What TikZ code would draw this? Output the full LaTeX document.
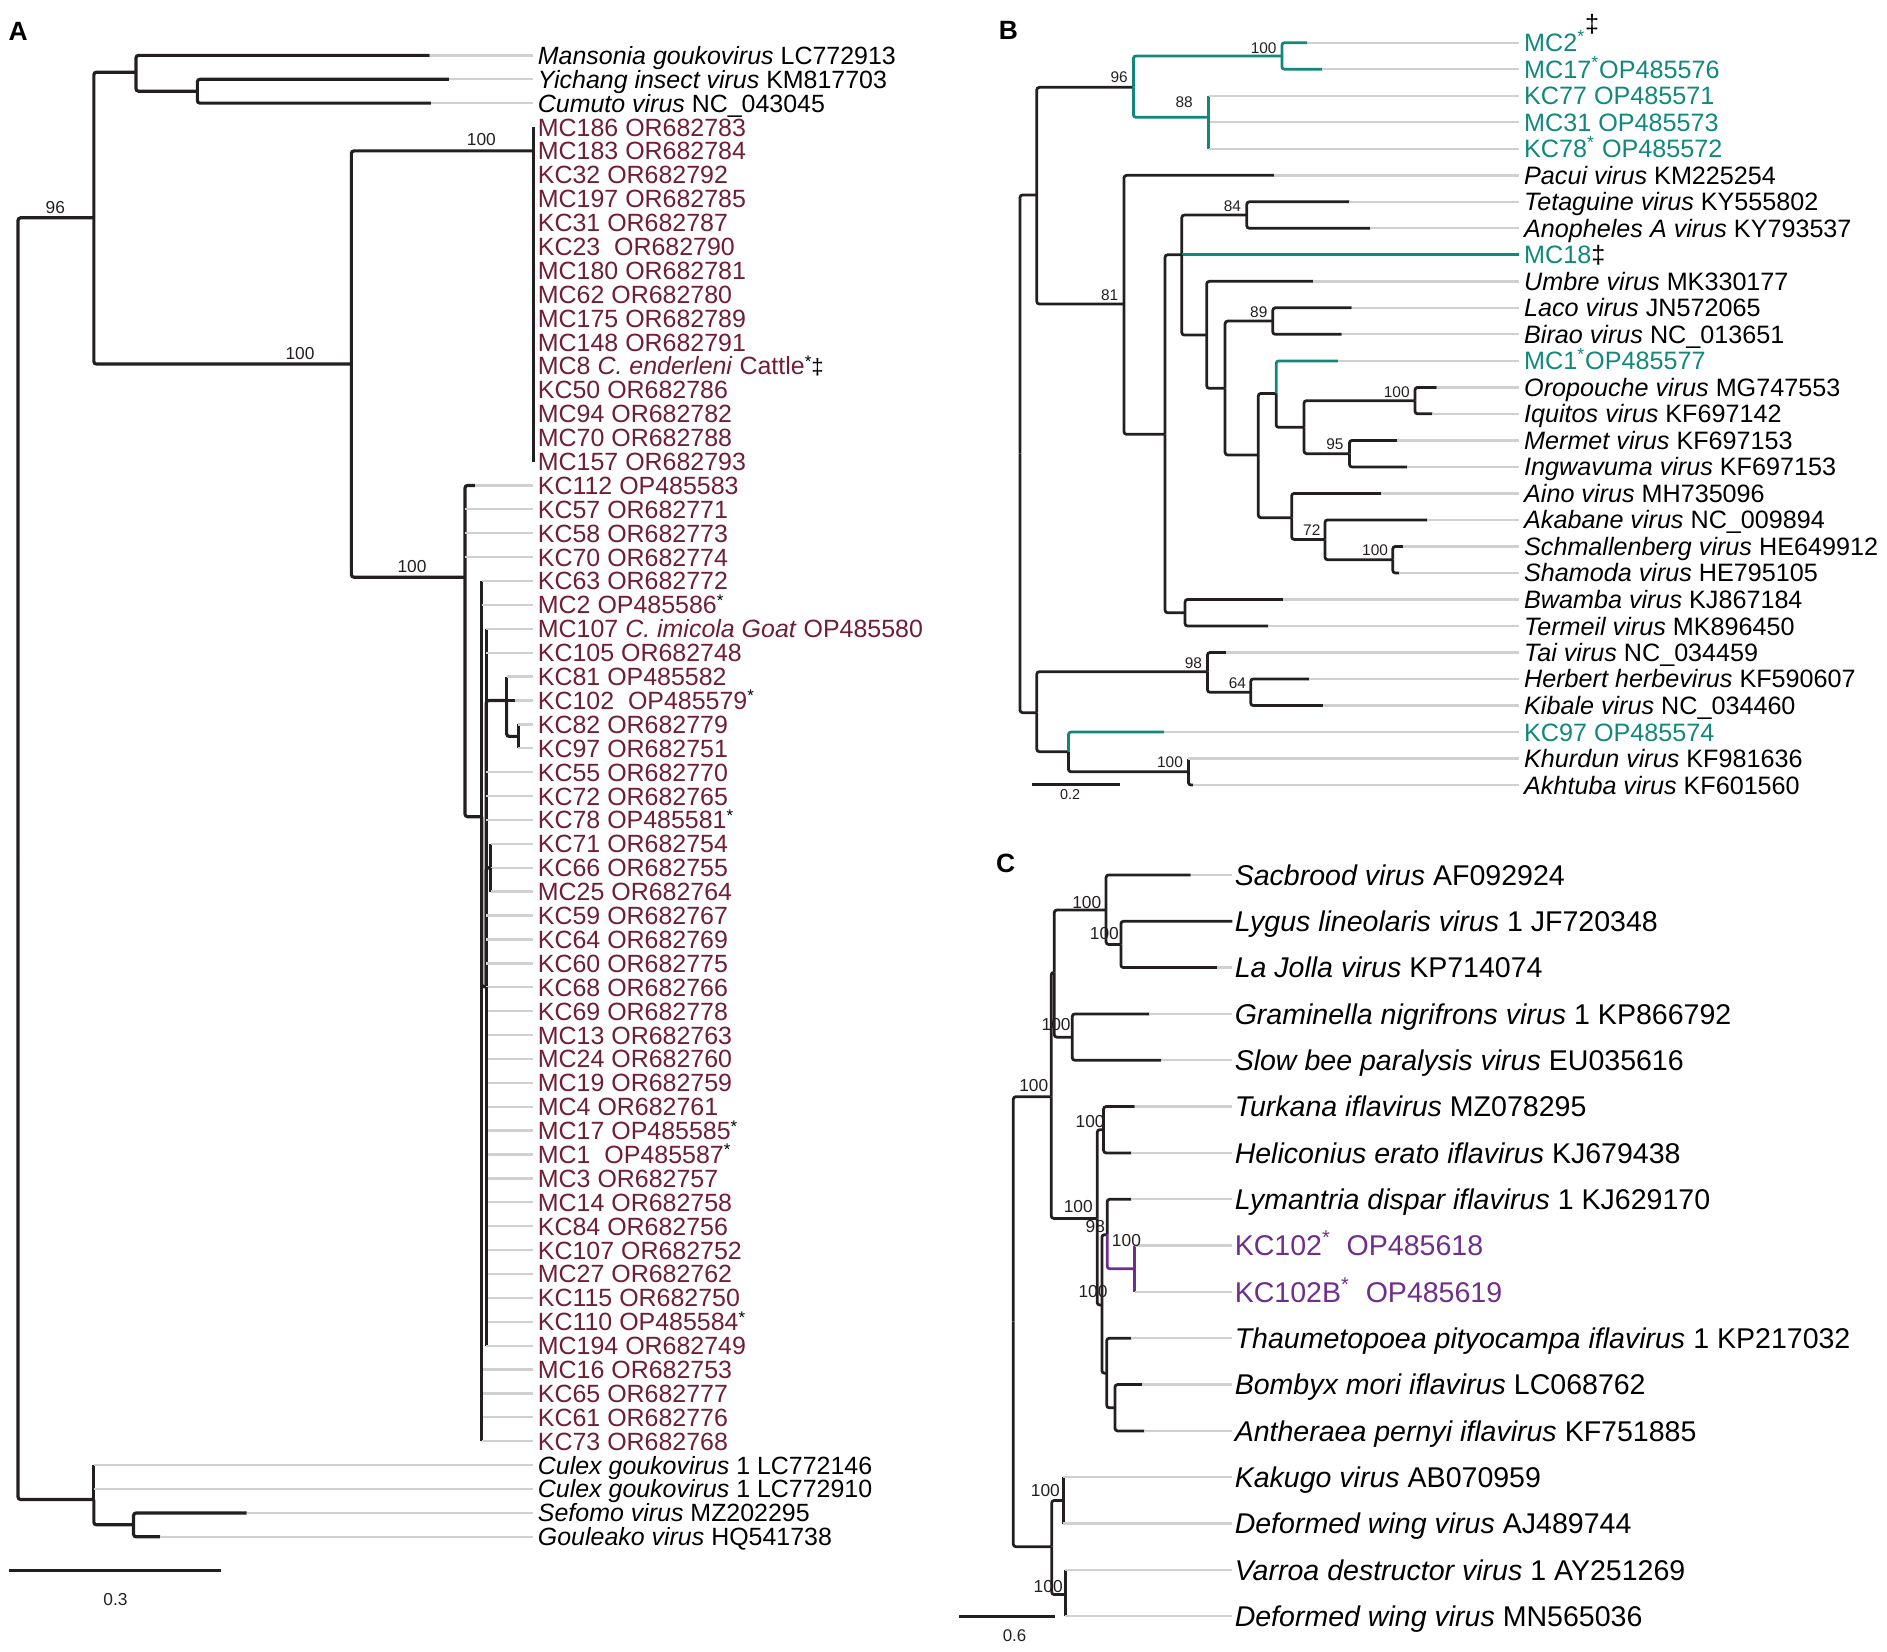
\documentclass[tikz,border=0pt]{standalone}
\usepackage{fontspec}
\setmainfont{Liberation Sans}
\definecolor{treeblack}{RGB}{35,31,32}
\definecolor{tipgray}{RGB}{208,208,208}
\definecolor{virmaroon}{RGB}{112,30,52}
\definecolor{virteal}{RGB}{18,136,124}
\definecolor{virpurple}{RGB}{112,46,140}

\begin{document}
\begin{tikzpicture}[x=0.02cm, y=-0.02cm]
\tikzstyle{brA}=[draw=treeblack, line width=1.5pt, rounded corners=1.2pt]
\tikzstyle{br}=[draw=treeblack, line width=1.3pt, rounded corners=1.2pt]
\tikzstyle{brteal}=[br, draw=virteal]
\tikzstyle{brpurple}=[br, draw=virpurple]
\tikzstyle{tipg}=[draw=tipgray, line width=1.1pt]
\tikzstyle{tipA}=[anchor=west, inner xsep=0.08cm, inner ysep=0pt, outer sep=0pt, text=virmaroon, font=\fontsize{11.8}{12}\selectfont, text height=8.45pt, text depth=0pt]
\tikzstyle{tipAk}=[tipA, text=black]
\tikzstyle{tipB}=[anchor=west, inner xsep=0.09cm, inner ysep=0pt, outer sep=0pt, text=black, font=\fontsize{11.9}{12}\selectfont, text height=8.5pt, text depth=0pt]
\tikzstyle{tipBt}=[tipB, text=virteal]
\tikzstyle{tipC}=[anchor=west, inner xsep=0.04cm, inner ysep=0pt, outer sep=0pt, text=black, font=\fontsize{13.5}{14}\selectfont, text height=9.65pt, text depth=0pt]
\tikzstyle{tipCp}=[tipC, text=virpurple]
\tikzstyle{bsA}=[inner sep=0pt, text=treeblack, font=\fontsize{8.2}{9}\selectfont]
\tikzstyle{bsB}=[bsA, font=\fontsize{7.3}{8}\selectfont]
\tikzstyle{bsC}=[bsA, font=\fontsize{8.2}{9}\selectfont]
\tikzstyle{panel}=[inner sep=0pt, font=\fontsize{12.5}{13}\selectfont\bfseries]
\useasboundingbox (0,0) rectangle (1568,1372);

% ---------------- A ----------------
\node[panel] (pA) at (15,26) {A};
\coordinate (aRoot) at (15,713);
\coordinate (a96) at (78,181);
\coordinate (aGouk) at (113,60);
\coordinate (aYC) at (164,75.8);
\coordinate (aCH) at (292,302.5);
\coordinate (aTop) at (443,125.4);
\coordinate (aBot) at (386.4,479.6);
\coordinate (aPoly) at (400.3,678.6);
\coordinate (aSub) at (404,820);
\coordinate (aK81) at (421,582.1);
\coordinate (aK82) at (430.7,611.9);
\coordinate (aK71) at (407.7,721.1);
\coordinate (aOut) at (78,1246);
\coordinate (aSG) at (111,1267);

\node[tipAk] (mansonia) at (443,46.0) {\textit{Mansonia goukovirus} LC772913};
\node[tipAk] (yichang) at (443,65.9) {\textit{Yichang insect virus} KM817703};
\node[tipAk] (cumuto) at (443,85.7) {\textit{Cumuto virus} NC\_043045};
\node[tipA] (aMC186) at (443,105.6) {MC186 OR682783};
\node[tipA] (aMC183) at (443,125.4) {MC183 OR682784};
\node[tipA] (aKC32) at (443,145.3) {KC32 OR682792};
\node[tipA] (aMC197) at (443,165.1) {MC197 OR682785};
\node[tipA] (aKC31) at (443,185.0) {KC31 OR682787};
\node[tipA] (aKC23) at (443,204.8) {KC23~ OR682790};
\node[tipA] (aMC180) at (443,224.7) {MC180 OR682781};
\node[tipA] (aMC62) at (443,244.6) {MC62 OR682780};
\node[tipA] (aMC175) at (443,264.4) {MC175 OR682789};
\node[tipA] (aMC148) at (443,284.3) {MC148 OR682791};
\node[tipA] (aMC8) at (443,304.1) {MC8 \textit{C. enderleni} Cattle\textcolor{black}{\raisebox{0.3em}{\fontsize{8}{8}\selectfont *}{\fontsize{10.5}{10}\selectfont ‡}}};
\node[tipA] (aKC50) at (443,324.0) {KC50 OR682786};
\node[tipA] (aMC94) at (443,343.8) {MC94 OR682782};
\node[tipA] (aMC70) at (443,363.7) {MC70 OR682788};
\node[tipA] (aMC157) at (443,383.5) {MC157 OR682793};
\node[tipA] (aKC112) at (443,403.4) {KC112 OP485583};
\node[tipA] (aKC57) at (443,423.2) {KC57 OR682771};
\node[tipA] (aKC58) at (443,443.1) {KC58 OR682773};
\node[tipA] (aKC70) at (443,463.0) {KC70 OR682774};
\node[tipA] (aKC63) at (443,482.8) {KC63 OR682772};
\node[tipA] (aMC2) at (443,502.7) {MC2 OP485586\textcolor{black}{\raisebox{0.3em}{\fontsize{8}{8}\selectfont *}}};
\node[tipA] (aMC107) at (443,522.5) {MC107 \textit{C. imicola Goat} OP485580};
\node[tipA] (aKC105) at (443,542.4) {KC105 OR682748};
\node[tipA] (aKC81) at (443,562.2) {KC81 OP485582};
\node[tipA] (aKC102) at (443,582.1) {KC102~ OP485579\textcolor{black}{\raisebox{0.3em}{\fontsize{8}{8}\selectfont *}}};
\node[tipA] (aKC82) at (443,601.9) {KC82 OR682779};
\node[tipA] (aKC97) at (443,621.8) {KC97 OR682751};
\node[tipA] (aKC55) at (443,641.6) {KC55 OR682770};
\node[tipA] (aKC72) at (443,661.5) {KC72 OR682765};
\node[tipA] (aKC78) at (443,681.4) {KC78 OP485581\textcolor{black}{\raisebox{0.3em}{\fontsize{8}{8}\selectfont *}}};
\node[tipA] (aKC71) at (443,701.2) {KC71 OR682754};
\node[tipA] (aKC66) at (443,721.1) {KC66 OR682755};
\node[tipA] (aMC25) at (443,740.9) {MC25 OR682764};
\node[tipA] (aKC59) at (443,760.8) {KC59 OR682767};
\node[tipA] (aKC64) at (443,780.6) {KC64 OR682769};
\node[tipA] (aKC60) at (443,800.5) {KC60 OR682775};
\node[tipA] (aKC68) at (443,820.3) {KC68 OR682766};
\node[tipA] (aKC69) at (443,840.2) {KC69 OR682778};
\node[tipA] (aMC13) at (443,860.1) {MC13 OR682763};
\node[tipA] (aMC24) at (443,879.9) {MC24 OR682760};
\node[tipA] (aMC19) at (443,899.8) {MC19 OR682759};
\node[tipA] (aMC4) at (443,919.6) {MC4 OR682761};
\node[tipA] (aMC17) at (443,939.5) {MC17 OP485585\textcolor{black}{\raisebox{0.3em}{\fontsize{8}{8}\selectfont *}}};
\node[tipA] (aMC1) at (443,959.3) {MC1~ OP485587\textcolor{black}{\raisebox{0.3em}{\fontsize{8}{8}\selectfont *}}};
\node[tipA] (aMC3) at (443,979.2) {MC3 OR682757};
\node[tipA] (aMC14) at (443,999.0) {MC14 OR682758};
\node[tipA] (aKC84) at (443,1018.9) {KC84 OR682756};
\node[tipA] (aKC107) at (443,1038.8) {KC107 OR682752};
\node[tipA] (aMC27) at (443,1058.6) {MC27 OR682762};
\node[tipA] (aKC115) at (443,1078.5) {KC115 OR682750};
\node[tipA] (aKC110) at (443,1098.3) {KC110 OP485584\textcolor{black}{\raisebox{0.3em}{\fontsize{8}{8}\selectfont *}}};
\node[tipA] (aMC194) at (443,1118.2) {MC194 OR682749};
\node[tipA] (aMC16) at (443,1138.0) {MC16 OR682753};
\node[tipA] (aKC65) at (443,1157.9) {KC65 OR682777};
\node[tipA] (aKC61) at (443,1177.7) {KC61 OR682776};
\node[tipA] (aKC73) at (443,1197.6) {KC73 OR682768};
\node[tipAk] (culex1) at (443,1217.4) {\textit{Culex goukovirus} 1 LC772146};
\node[tipAk] (culex2) at (443,1237.3) {\textit{Culex goukovirus} 1 LC772910};
\node[tipAk] (sefomo) at (443,1257.2) {\textit{Sefomo virus} MZ202295};
\node[tipAk] (gouleako) at (443,1277.0) {\textit{Gouleako virus} HQ541738};

\coordinate (mansoniaE) at (357,46.0);
\coordinate (yichangE) at (373,65.9);
\coordinate (cumutoE) at (358,85.7);
\coordinate (aKC112E) at (394.7,403.4);
\coordinate (aKC102E) at (428,582.1);
\coordinate (sefomoE) at (205,1257.2);
\coordinate (gouleakoE) at (133,1277.0);

\draw[brA] (aRoot) |- (a96);
\draw[brA] (a96) |- (aGouk);
\draw[brA] (aGouk) |- (mansoniaE) edge[tipg] (mansonia);
\draw[brA] (aGouk) |- (aYC);
\draw[brA] (aYC) |- (yichangE) edge[tipg] (yichang);
\draw[brA] (aYC) |- (cumutoE) edge[tipg] (cumuto);
\draw[brA] (a96) |- (aCH);
\draw[brA] (aCH) |- (aTop);
\draw[brA] (aTop |- aMC186) -- (aTop |- aMC157);
\draw[brA] (aCH) |- (aBot);
\draw[brA] (aBot) |- (aKC112E) edge[tipg] (aKC112);
\draw[tipg] (aBot |- aKC57) -- (aKC57);
\draw[tipg] (aBot |- aKC58) -- (aKC58);
\draw[tipg] (aBot |- aKC70) -- (aKC70);
\draw[brA] (aBot) |- (aPoly);
\draw[brA] (aPoly) -- (aPoly |- aKC63) edge[tipg] (aKC63);
\draw[tipg] (aPoly |- aMC2) -- (aMC2);
\draw[brA] (aPoly) |- (aSub);
\draw[tipg] (aPoly |- aMC16) -- (aMC16);
\draw[tipg] (aPoly |- aKC65) -- (aKC65);
\draw[tipg] (aPoly |- aKC61) -- (aKC61);
\draw[brA] (aPoly) -- (aPoly |- aKC73) edge[tipg] (aKC73);
\draw[brA] (aSub) -- (aSub |- aMC107) edge[tipg] (aMC107);
\draw[tipg] (aSub |- aKC105) -- (aKC105);
\draw[brA] (aSub) |- (aK81);
\draw[brA] (aK81) -- (aK81 |- aKC81) edge[tipg] (aKC81);
\draw[brA] (aK81) -- (aKC102E) edge[tipg] (aKC102);
\draw[brA] (aK81) |- (aK82);
\draw[brA] (aK82) -- (aK82 |- aKC82) edge[tipg] (aKC82);
\draw[brA] (aK82) -- (aK82 |- aKC97) edge[tipg] (aKC97);
\draw[tipg] (aSub |- aKC55) -- (aKC55);
\draw[tipg] (aSub |- aKC72) -- (aKC72);
\draw[tipg] (aSub |- aKC78) -- (aKC78);
\draw[brA] (aSub) |- (aK71);
\draw[brA] (aK71) -- (aK71 |- aKC71) edge[tipg] (aKC71);
\draw[tipg] (aK71 |- aKC66) -- (aKC66);
\draw[brA] (aK71) -- (aK71 |- aMC25) edge[tipg] (aMC25);
\draw[tipg] (aSub |- aKC59) -- (aKC59);
\draw[tipg] (aSub |- aKC64) -- (aKC64);
\draw[tipg] (aSub |- aKC60) -- (aKC60);
\draw[tipg] (aSub |- aKC68) -- (aKC68);
\draw[tipg] (aSub |- aKC69) -- (aKC69);
\draw[tipg] (aSub |- aMC13) -- (aMC13);
\draw[tipg] (aSub |- aMC24) -- (aMC24);
\draw[tipg] (aSub |- aMC19) -- (aMC19);
\draw[tipg] (aSub |- aMC4) -- (aMC4);
\draw[tipg] (aSub |- aMC17) -- (aMC17);
\draw[tipg] (aSub |- aMC1) -- (aMC1);
\draw[tipg] (aSub |- aMC3) -- (aMC3);
\draw[tipg] (aSub |- aMC14) -- (aMC14);
\draw[tipg] (aSub |- aKC84) -- (aKC84);
\draw[tipg] (aSub |- aKC107) -- (aKC107);
\draw[tipg] (aSub |- aMC27) -- (aMC27);
\draw[tipg] (aSub |- aKC115) -- (aKC115);
\draw[tipg] (aSub |- aKC110) -- (aKC110);
\draw[brA] (aSub) -- (aSub |- aMC194) edge[tipg] (aMC194);
\draw[brA] (aRoot) |- (aOut);
\draw[brA] (aOut) -- (aOut |- culex1) edge[tipg] (culex1);
\draw[tipg] (aOut |- culex2) -- (culex2);
\draw[brA] (aOut) |- (aSG);
\draw[brA] (aSG) |- (sefomoE) edge[tipg] (sefomo);
\draw[brA] (aSG) |- (gouleakoE) edge[tipg] (gouleako);

\node[bsA] (sA96) at (46,172.4) {96};
\node[bsA] (sA100a) at (249.3,293.6) {100};
\node[bsA] (sA100b) at (400,115.9) {100};
\node[bsA] (sA100c) at (342.4,470.9) {100};
\coordinate (sbA1) at (7.5,1305);
\coordinate (sbA2) at (184,1305);
\draw[brA] (sbA1) -- (sbA2);
\node[bsA] (sbAl) at (96,1329) {0.3};

% ---------------- B ----------------
\node[panel] (pB) at (838,25) {B};
\coordinate (bRoot) at (847.6,377);
\coordinate (bUp) at (861.5,162);
\coordinate (bLow) at (861.5,592.2);
\coordinate (b96) at (941.8,72.6);
\coordinate (b100t) at (1065.2,46.5);
\coordinate (b88) at (1004.2,97.5);
\coordinate (b81) at (934,252.6);
\coordinate (bA) at (968.1,360.9);
\coordinate (bB) at (982,211.7);
\coordinate (b84) at (1036,178.7);
\coordinate (bC) at (1002.7,278.4);
\coordinate (bD) at (1018,322.7);
\coordinate (b89) at (1057.6,266.8);
\coordinate (bE) at (1045.6,378.1);
\coordinate (bF) at (1060.4,326.9);
\coordinate (bH) at (1083.6,355.1);
\coordinate (b100o) at (1175.8,332.9);
\coordinate (b95) at (1121.3,377);
\coordinate (bG) at (1073.3,430.2);
\coordinate (b72) at (1101,448.2);
\coordinate (b100s) at (1157.3,465.1);
\coordinate (bBT) at (984.7,509.2);
\coordinate (b98) at (1003.3,558.1);
\coordinate (b64) at (1039.3,575.2);
\coordinate (bKC) at (887.8,624.6);
\coordinate (b100k) at (987.5,641.3);

\node[tipBt] (bMC2) at (1262,35.5) {MC2\textsuperscript{*}\textcolor{black}{\raisebox{0.75em}{‡}}};
\node[tipBt] (bMC17) at (1262,57.5) {MC17\textsuperscript{*}OP485576};
\node[tipBt] (bKC77) at (1262,79.6) {KC77 OP485571};
\node[tipBt] (bMC31) at (1262,101.6) {MC31 OP485573};
\node[tipBt] (bKC78) at (1262,123.6) {KC78\textsuperscript{*} OP485572};
\node[tipB] (pacui) at (1262,145.7) {\textit{Pacui virus} KM225254};
\node[tipB] (tetaguine) at (1262,167.7) {\textit{Tetaguine virus} KY555802};
\node[tipB] (anopheles) at (1262,189.7) {\textit{Anopheles A virus} KY793537};
\node[tipBt] (bMC18) at (1262,211.7) {MC18\textcolor{black}{‡}};
\node[tipB] (umbre) at (1262,233.8) {\textit{Umbre virus} MK330177};
\node[tipB] (laco) at (1262,255.8) {\textit{Laco virus} JN572065};
\node[tipB] (birao) at (1262,277.8) {\textit{Birao virus} NC\_013651};
\node[tipBt] (bMC1) at (1262,299.9) {MC1\textsuperscript{*}OP485577};
\node[tipB] (oropouche) at (1262,321.9) {\textit{Oropouche virus} MG747553};
\node[tipB] (iquitos) at (1262,343.9) {\textit{Iquitos virus} KF697142};
\node[tipB] (mermet) at (1262,366.0) {\textit{Mermet virus} KF697153};
\node[tipB] (ingwavuma) at (1262,388.0) {\textit{Ingwavuma virus} KF697153};
\node[tipB] (aino) at (1262,410.0) {\textit{Aino virus} MH735096};
\node[tipB] (akabane) at (1262,432.0) {\textit{Akabane virus} NC\_009894};
\node[tipB] (schmall) at (1262,454.1) {\textit{Schmallenberg virus} HE649912};
\node[tipB] (shamoda) at (1262,476.1) {\textit{Shamoda virus} HE795105};
\node[tipB] (bwamba) at (1262,498.1) {\textit{Bwamba virus} KJ867184};
\node[tipB] (termeil) at (1262,520.2) {\textit{Termeil virus} MK896450};
\node[tipB] (tai) at (1262,542.2) {\textit{Tai virus} NC\_034459};
\node[tipB] (herbert) at (1262,564.2) {\textit{Herbert herbevirus} KF590607};
\node[tipB] (kibale) at (1262,586.3) {\textit{Kibale virus} NC\_034460};
\node[tipBt] (bKC97) at (1262,608.3) {KC97 OP485574};
\node[tipB] (khurdun) at (1262,630.3) {\textit{Khurdun virus} KF981636};
\node[tipB] (akhtuba) at (1262,652.3) {\textit{Akhtuba virus} KF601560};

\coordinate (bMC2E) at (1086.4,35.5);
\coordinate (bMC17E) at (1098.9,57.5);
\coordinate (pacuiE) at (1058.7,145.7);
\coordinate (tetaguineE) at (1121.3,167.7);
\coordinate (anophelesE) at (1138.4,189.7);
\coordinate (umbreE) at (1091.4,233.8);
\coordinate (lacoE) at (1123.2,255.8);
\coordinate (biraoE) at (1114.9,277.8);
\coordinate (bMC1E) at (1111.6,299.9);
\coordinate (oropoucheE) at (1193.8,321.9);
\coordinate (iquitosE) at (1190.3,343.9);
\coordinate (mermetE) at (1161.2,366.0);
\coordinate (ingwavumaE) at (1169.5,388.0);
\coordinate (ainoE) at (1147.6,410.0);
\coordinate (akabaneE) at (1186.1,432.0);
\coordinate (schmallE) at (1166.2,454.1);
\coordinate (shamodaE) at (1162.8,476.1);
\coordinate (bwambaE) at (1066.4,498.1);
\coordinate (termeilE) at (1054,520.2);
\coordinate (taiE) at (1018.8,542.2);
\coordinate (herbertE) at (1088,564.2);
\coordinate (kibaleE) at (1099.7,586.3);
\coordinate (bKC97E) at (967.3,608.3);
\coordinate (akhtubaE) at (991.1,652.3);

\draw[br] (bRoot) |- (bUp);
\draw[br] (bRoot) |- (bLow);
\draw[br] (bUp) |- (b96);
\draw[brteal] (b96) |- (b100t);
\draw[brteal] (b100t) |- (bMC2E) edge[tipg] (bMC2);
\draw[brteal] (b100t) |- (bMC17E) edge[tipg] (bMC17);
\draw[brteal] (b96) |- (b88);
\draw[brteal] (b88) -- (b88 |- bKC77) edge[tipg] (bKC77);
\draw[tipg] (b88 |- bMC31) -- (bMC31);
\draw[brteal] (b88) -- (b88 |- bKC78) edge[tipg] (bKC78);
\draw[br] (bUp) |- (b81);
\draw[br] (b81) |- (pacuiE) edge[tipg] (pacui);
\draw[br] (b81) |- (bA);
\draw[br] (bA) |- (bB);
\draw[br] (bB) |- (b84);
\draw[br] (b84) |- (tetaguineE) edge[tipg] (tetaguine);
\draw[br] (b84) |- (anophelesE) edge[tipg] (anopheles);
\draw[brteal] (bB) -- (bMC18);
\draw[br] (bB) |- (bC);
\draw[br] (bC) |- (umbreE) edge[tipg] (umbre);
\draw[br] (bC) |- (bD);
\draw[br] (bD) |- (b89);
\draw[br] (b89) |- (lacoE) edge[tipg] (laco);
\draw[br] (b89) |- (biraoE) edge[tipg] (birao);
\draw[br] (bD) |- (bE);
\draw[br] (bE) |- (bF);
\draw[brteal] (bF) |- (bMC1E) edge[tipg] (bMC1);
\draw[br] (bF) |- (bH);
\draw[br] (bH) |- (b100o);
\draw[br] (b100o) |- (oropoucheE) edge[tipg] (oropouche);
\draw[br] (b100o) |- (iquitosE) edge[tipg] (iquitos);
\draw[br] (bH) |- (b95);
\draw[br] (b95) |- (mermetE) edge[tipg] (mermet);
\draw[br] (b95) |- (ingwavumaE) edge[tipg] (ingwavuma);
\draw[br] (bE) |- (bG);
\draw[br] (bG) |- (ainoE) edge[tipg] (aino);
\draw[br] (bG) |- (b72);
\draw[br] (b72) |- (akabaneE) edge[tipg] (akabane);
\draw[br] (b72) |- (b100s);
\draw[br] (b100s) |- (schmallE) edge[tipg] (schmall);
\draw[br] (b100s) |- (shamodaE) edge[tipg] (shamoda);
\draw[br] (bA) |- (bBT);
\draw[br] (bBT) |- (bwambaE) edge[tipg] (bwamba);
\draw[br] (bBT) |- (termeilE) edge[tipg] (termeil);
\draw[br] (bLow) |- (b98);
\draw[br] (b98) |- (taiE) edge[tipg] (tai);
\draw[br] (b98) |- (b64);
\draw[br] (b64) |- (herbertE) edge[tipg] (herbert);
\draw[br] (b64) |- (kibaleE) edge[tipg] (kibale);
\draw[br] (bLow) |- (bKC);
\draw[brteal] (bKC) |- (bKC97E) edge[tipg] (bKC97);
\draw[br] (bKC) |- (b100k);
\draw[br] (b100k) -- (b100k |- khurdun) edge[tipg] (khurdun);
\draw[br] (b100k) |- (akhtubaE) edge[tipg] (akhtuba);

\node[bsB] (sB96) at (930,64.5) {96};
\node[bsB] (sB100a) at (1050,40) {100};
\node[bsB] (sB88) at (984,84.5) {88};
\node[bsB] (sB81) at (922,245.5) {81};
\node[bsB] (sB84) at (1024,171) {84};
\node[bsB] (sB89) at (1046,259.5) {89};
\node[bsB] (sB100b) at (1160.6,325.5) {100};
\node[bsB] (sB95) at (1109.3,369) {95};
\node[bsB] (sB72) at (1090,440.4) {72};
\node[bsB] (sB100c) at (1142.6,457) {100};
\node[bsB] (sB98) at (991.6,550.7) {98};
\node[bsB] (sB64) at (1028.2,567.3) {64};
\node[bsB] (sB100d) at (972.2,633) {100};
\coordinate (sbB1) at (857.3,651.8);
\coordinate (sbB2) at (930.7,651.8);
\draw[br] (sbB1) -- (sbB2);
\node[bsB, font=\fontsize{6.8}{7}\selectfont] (sbBl) at (889.2,660) {0.2};

% ---------------- C ----------------
\node[panel] (pC) at (835.7,717.4) {C};
\coordinate (cRoot) at (842,1098);
\coordinate (cUp) at (873.5,911.3);
\coordinate (cSG) at (876,808);
\coordinate (cSac) at (919.1,756.2);
\coordinate (cLL) at (931.4,784.8);
\coordinate (cGram) at (891,861.8);
\coordinate (cLow) at (911.7,1012.4);
\coordinate (cTur) at (917,938.8);
\coordinate (cMid) at (915.6,1084.4);
\coordinate (cLym) at (920,1026);
\coordinate (cKC) at (942.7,1054.3);
\coordinate (cTh) at (919.6,1141);
\coordinate (cBA) at (926.5,1169.8);
\coordinate (cDwv) at (873.9,1285.2);
\coordinate (cKak) at (883.7,1246.8);
\coordinate (cVar) at (885.2,1325);

\node[tipC] (sacbrood) at (1024,727) {\textit{Sacbrood virus} AF092924};
\node[tipC] (lygus) at (1024,765.5) {\textit{Lygus lineolaris virus} 1 JF720348};
\node[tipC] (lajolla) at (1024,804) {\textit{La Jolla virus} KP714074};
\node[tipC] (graminella) at (1024,842.5) {\textit{Graminella nigrifrons virus} 1 KP866792};
\node[tipC] (slowbee) at (1024,881) {\textit{Slow bee paralysis virus} EU035616};
\node[tipC] (turkana) at (1024,919.5) {\textit{Turkana iflavirus} MZ078295};
\node[tipC] (heliconius) at (1024,958) {\textit{Heliconius erato iflavirus} KJ679438};
\node[tipC] (lymantria) at (1024,996.5) {\textit{Lymantria dispar iflavirus} 1 KJ629170};
\node[tipCp] (cKC102) at (1024,1035) {KC102\textsuperscript{*}~~OP485618};
\node[tipCp] (cKC102B) at (1024,1073.5) {KC102B\textsuperscript{*}~~OP485619};
\node[tipC] (thaumeto) at (1024,1112) {\textit{Thaumetopoea pityocampa iflavirus} 1 KP217032};
\node[tipC] (bombyx) at (1024,1150.5) {\textit{Bombyx mori iflavirus} LC068762};
\node[tipC] (antheraea) at (1024,1189) {\textit{Antheraea pernyi iflavirus} KF751885};
\node[tipC] (kakugo) at (1024,1227.5) {\textit{Kakugo virus} AB070959};
\node[tipC] (dwvAJ) at (1024,1266) {\textit{Deformed wing virus} AJ489744};
\node[tipC] (varroa) at (1024,1304.5) {\textit{Varroa destructor virus} 1 AY251269};
\node[tipC] (dwvMN) at (1024,1343) {\textit{Deformed wing virus} MN565036};

\coordinate (sacbroodE) at (989.4,727);
\coordinate (lajollaE) at (1011.5,804);
\coordinate (graminellaE) at (955,842.5);
\coordinate (slowbeeE) at (964.8,881);
\coordinate (turkanaE) at (942.7,919.5);
\coordinate (heliconiusE) at (940.2,958);
\coordinate (lymantriaE) at (940.2,996.5);
\coordinate (thaumetoE) at (940.2,1112);
\coordinate (bombyxE) at (949,1150.5);
\coordinate (antheraeaE) at (951,1189);

\draw[br] (cRoot) |- (cUp);
\draw[br] (cRoot) |- (cDwv);
\draw[br] (cUp) |- (cSG);
\draw[br] (cUp) |- (cLow);
\draw[br] (cSG) |- (cSac);
\draw[br] (cSac) |- (sacbroodE) edge[tipg] (sacbrood);
\draw[br] (cSac) |- (cLL);
\draw[br] (cLL) |- (lygus);
\draw[br] (cLL) |- (lajollaE) edge[tipg] (lajolla);
\draw[br] (cSG) |- (cGram);
\draw[br] (cGram) |- (graminellaE) edge[tipg] (graminella);
\draw[br] (cGram) |- (slowbeeE) edge[tipg] (slowbee);
\draw[br] (cLow) |- (cTur);
\draw[br] (cTur) |- (turkanaE) edge[tipg] (turkana);
\draw[br] (cTur) |- (heliconiusE) edge[tipg] (heliconius);
\draw[br] (cLow) |- (cMid);
\draw[br] (cMid) |- (cLym);
\draw[br] (cLym) |- (lymantriaE) edge[tipg] (lymantria);
\draw[brpurple] (cLym) |- (cKC);
\draw[brpurple] (cKC) -- (cKC |- cKC102) edge[tipg] (cKC102);
\draw[brpurple] (cKC) -- (cKC |- cKC102B) edge[tipg] (cKC102B);
\draw[br] (cMid) |- (cTh);
\draw[br] (cTh) |- (thaumetoE) edge[tipg] (thaumeto);
\draw[br] (cTh) |- (cBA);
\draw[br] (cBA) |- (bombyxE) edge[tipg] (bombyx);
\draw[br] (cBA) |- (antheraeaE) edge[tipg] (antheraea);
\draw[br] (cDwv) |- (cKak);
\draw[br] (cKak) -- (cKak |- kakugo) edge[tipg] (kakugo);
\draw[br] (cKak) -- (cKak |- dwvAJ) edge[tipg] (dwvAJ);
\draw[br] (cDwv) |- (cVar);
\draw[br] (cVar) -- (cVar |- varroa) edge[tipg] (varroa);
\draw[br] (cVar) -- (cVar |- dwvMN) edge[tipg] (dwvMN);

\node[bsC] (sC100a) at (859,902.4) {100};
\node[bsC] (sC100b) at (903,750.1) {100};
\node[bsC] (sC100c) at (917.7,775.6) {100};
\node[bsC] (sC100d) at (877.6,851.2) {100};
\node[bsC] (sC100e) at (896,1002.7) {100};
\node[bsC] (sC100f) at (905.8,932.1) {100};
\node[bsC] (sC98) at (910.2,1019.3) {98};
\node[bsC] (sC100g) at (936,1030.4) {100};
\node[bsC] (sC100h) at (908.2,1073.4) {100};
\node[bsC] (sC100i) at (868.6,1238.2) {100};
\node[bsC] (sC100j) at (871,1317.9) {100};
\coordinate (sbC1) at (797,1343.4);
\coordinate (sbC2) at (876.4,1343.4);
\draw[br] (sbC1) -- (sbC2);
\node[bsC, font=\fontsize{8}{9}\selectfont] (sbCl) at (843,1359) {0.6};
\end{tikzpicture}
\end{document}
